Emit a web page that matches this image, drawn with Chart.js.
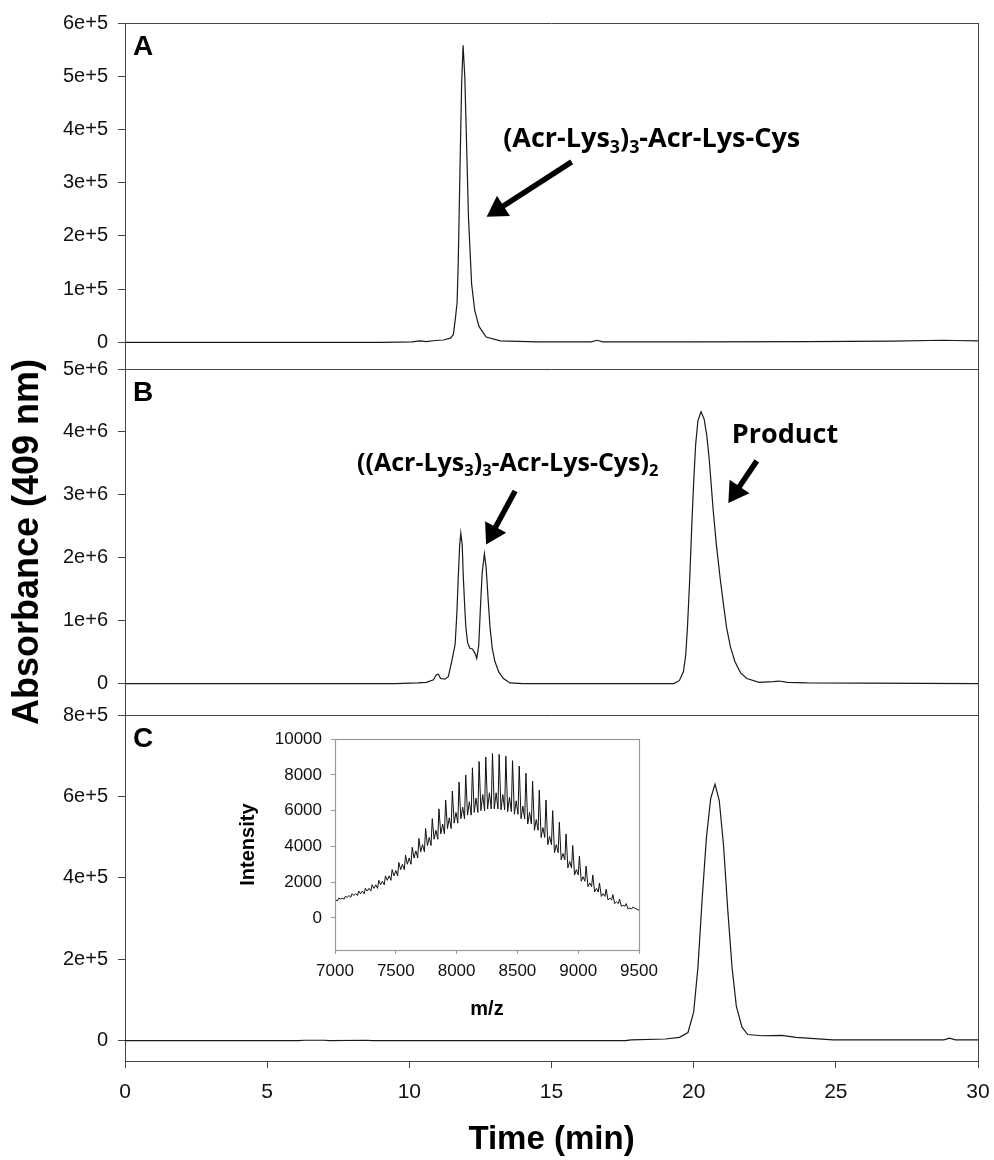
<!DOCTYPE html>
<html>
<head>
<meta charset="utf-8">
<script src="https://cdn.jsdelivr.net/npm/chart.js@4.4.1/dist/chart.umd.min.js"></script>
<style>
  html, body { margin: 0; padding: 0; background: #fff; }
  #wrap { position: relative; width: 994px; height: 1160px; }
  #main { position: absolute; left: 0; top: 0; }
  #inset { position: absolute; left: 225px; top: 720px; }
</style>
</head>
<body>
<div id="wrap">
  <canvas id="main" width="994" height="1160"></canvas>
  <canvas id="inset" width="440" height="305"></canvas>
</div>
<script>
// chromatograms, time in min / absorbance at 409 nm
var timeA = [0, 3, 6, 9, 10.1, 10.35, 10.45, 10.6, 10.9, 11.2, 11.45, 11.55, 11.62, 11.68, 11.72, 11.78, 11.84, 11.89, 11.95, 12.0, 12.08, 12.19, 12.3, 12.45, 12.7, 13.2, 14.5, 16.4, 16.6, 16.8, 20, 24, 27, 28.8, 29.2, 30];
var absA  = [0, 0, 0, 0, 1000, 3000, 2500, 1500, 3500, 4500, 8000, 15000, 45000, 75000, 150000, 320000, 487000, 558000, 500000, 400000, 235000, 110000, 60000, 30000, 10000, 3000, 1000, 1000, 4000, 1000, 1000, 1500, 2500, 4000, 3500, 3000];

var timeB = [0, 5, 9.5, 10.3, 10.6, 10.85, 10.95, 11.02, 11.1, 11.25, 11.37, 11.49, 11.61, 11.67, 11.72, 11.77, 11.81, 11.86, 11.9, 11.95, 11.99, 12.05, 12.13, 12.22, 12.31, 12.37, 12.44, 12.5, 12.56, 12.64, 12.7, 12.77, 12.84, 12.92, 13.01, 13.15, 13.31, 13.54, 14, 19.3, 19.5, 19.64, 19.72, 19.78, 19.86, 19.93, 20.0, 20.07, 20.15, 20.26, 20.37, 20.46, 20.55, 20.69, 20.8, 20.93, 21.05, 21.16, 21.3, 21.45, 21.65, 21.87, 22.3, 22.8, 23.0, 23.3, 24, 30];
var absB  = [0, 0, 0, 10000, 20000, 60000, 140000, 150000, 80000, 70000, 110000, 350000, 620000, 1100000, 1680000, 2200000, 2390000, 2200000, 1680000, 1200000, 880000, 650000, 560000, 550000, 480000, 400000, 600000, 1200000, 1750000, 2060000, 1850000, 1350000, 880000, 550000, 350000, 180000, 80000, 10000, 0, 0, 50000, 190000, 450000, 880000, 1650000, 2470000, 3200000, 3800000, 4180000, 4320000, 4200000, 3950000, 3550000, 2740000, 2200000, 1680000, 1250000, 880000, 570000, 350000, 170000, 80000, 20000, 30000, 40000, 20000, 10000, 0];

var timeC = [0, 6.1, 6.3, 7.0, 7.2, 8.5, 8.7, 12, 17.6, 17.8, 19.0, 19.5, 19.8, 20.0, 20.15, 20.3, 20.45, 20.6, 20.75, 20.9, 21.05, 21.2, 21.35, 21.5, 21.7, 21.9, 22.4, 23.1, 23.6, 24.9, 28.8, 29.0, 29.2, 30];
var absC  = [0, 0, 1000, 1000, 0, 1000, 0, 0, 0, 2000, 4000, 8000, 20000, 70000, 180000, 350000, 500000, 595000, 630000, 590000, 480000, 320000, 180000, 85000, 33000, 15000, 12000, 13000, 8000, 2000, 2000, 6000, 2000, 2000];

var timeTicks = [0, 5, 10, 15, 20, 25, 30];
var ticksA = [0, 100000, 200000, 300000, 400000, 500000, 600000];
var ticksB = [0, 1000000, 2000000, 3000000, 4000000, 5000000];
var ticksC = [0, 200000, 400000, 600000, 800000];

// inset mass spectrum: comb peaks on a broad envelope
var specStart = [7000, 900];
var specEnd = [9500, 420];
var spikeMz  = [7030, 7085, 7140, 7195, 7250, 7305, 7360, 7415, 7470, 7525, 7580, 7635, 7690, 7745, 7800, 7855, 7910, 7965, 8020, 8075, 8130, 8185, 8240, 8295, 8350, 8405, 8460, 8515, 8570, 8625, 8680, 8735, 8790, 8845, 8900, 8955, 9010, 9065, 9120, 9175, 9230, 9285, 9340, 9395, 9450];
var spikeTop = [1100, 1200, 1350, 1500, 1650, 1850, 2100, 2350, 2700, 3100, 3500, 3950, 4450, 5000, 5550, 6100, 6600, 7100, 7600, 8000, 8400, 8750, 9000, 9200, 9150, 9050, 8800, 8500, 8100, 7650, 7150, 6600, 6000, 5350, 4700, 4050, 3450, 2900, 2400, 1950, 1600, 1300, 1050, 800, 600];
var bandLow  = [950, 1050, 1150, 1250, 1350, 1500, 1650, 1850, 2100, 2350, 2700, 3000, 3350, 3700, 4050, 4400, 4700, 5000, 5300, 5550, 5750, 5900, 6000, 6100, 6100, 6050, 5950, 5800, 5550, 5250, 4900, 4500, 4100, 3650, 3250, 2800, 2400, 2050, 1750, 1450, 1200, 1000, 800, 650, 500];
var bandHigh = [1000, 1100, 1250, 1350, 1500, 1650, 1850, 2050, 2350, 2650, 3000, 3350, 3750, 4100, 4500, 4900, 5250, 5600, 5900, 6200, 6500, 6700, 6900, 7000, 7000, 6900, 6750, 6550, 6250, 5900, 5500, 5050, 4550, 4100, 3600, 3150, 2700, 2300, 1950, 1650, 1350, 1100, 900, 700, 550];
var mzTicks = [7000, 7500, 8000, 8500, 9000, 9500];
var intTicks = [0, 2000, 4000, 6000, 8000, 10000];

var FONT = "'Liberation Sans', Arial, sans-serif";
var AXIS = '#444';

function pts(xs, ys) {
  return xs.map(function (x, i) { return { x: x, y: ys[i] }; });
}

function fixTicks(list) {
  return function (scale) {
    scale.ticks = list.map(function (v) { return { value: v }; });
  };
}

function expLabel(v) {
  if (v === 0) return '0';
  return v.toExponential(0);
}

function yScale(min, max, list, weight) {
  return {
    type: 'linear',
    position: 'left',
    stack: 'abs',
    stackWeight: weight,
    min: min,
    max: max,
    afterBuildTicks: fixTicks(list),
    afterFit: function (s) { s.width = 125; },
    grid: { drawOnChartArea: false, tickLength: 7, color: AXIS },
    border: { color: AXIS, width: 1 },
    ticks: {
      callback: expLabel,
      font: { family: FONT, size: 20 },
      color: '#111',
      padding: 10,
      autoSkip: false
    }
  };
}

// labels drawn as text runs with subscripts
var labels = [
  { axis: 'yA', t: 0.28, v: 539000, size: 28, runs: [['A', 0]], family: FONT },
  { axis: 'yB', t: 0.28, v: 4490000, size: 28, runs: [['B', 0]], family: FONT },
  { axis: 'yC', t: 0.28, v: 722000, size: 28, runs: [['C', 0]], family: FONT },
  { axis: 'yA', t: 13.3, v: 367000, size: 27, runs: [['(Acr-Lys', 0], ['3', 1], [')', 0], ['3', 1], ['-Acr-Lys-Cys', 0]] },
  { axis: 'yB', t: 8.16, v: 3380000, size: 25, runs: [['((Acr-Lys', 0], ['3', 1], [')', 0], ['3', 1], ['-Acr-Lys-Cys)', 0], ['2', 1]] },
  { axis: 'yB', t: 21.34, v: 3830000, size: 27, runs: [['Product', 0]] }
];
var arrows = [
  { axis: 'yA', from: [15.71, 339000], to: [12.72, 236000] },
  { axis: 'yB', from: [13.72, 3060000], to: [12.70, 2210000] },
  { axis: 'yB', from: [22.22, 3540000], to: [21.22, 2870000] }
];

function drawRuns(ctx, lab, x, y) {
  var fam = lab.family || "'Open Sans', 'Liberation Sans', sans-serif";
  lab.runs.forEach(function (r) {
    var sz = r[1] ? lab.size * 0.66 : lab.size;
    ctx.font = 'bold ' + sz + 'px ' + fam;
    ctx.fillText(r[0], x, r[1] ? y + lab.size * 0.22 : y);
    x += ctx.measureText(r[0]).width;
  });
}

function drawArrow(ctx, x0, y0, x1, y1) {
  var ang = Math.atan2(y1 - y0, x1 - x0);
  var head = 20, half = 12;
  var bx = x1 - head * Math.cos(ang), by = y1 - head * Math.sin(ang);
  ctx.lineWidth = 5.5;
  ctx.lineCap = 'butt';
  ctx.beginPath();
  ctx.moveTo(x0, y0);
  ctx.lineTo(bx + 2 * Math.cos(ang), by + 2 * Math.sin(ang));
  ctx.stroke();
  ctx.beginPath();
  ctx.moveTo(x1, y1);
  ctx.lineTo(bx + half * Math.sin(ang), by - half * Math.cos(ang));
  ctx.lineTo(bx - half * Math.sin(ang), by + half * Math.cos(ang));
  ctx.closePath();
  ctx.fill();
}

var panelDecor = {
  id: 'panelDecor',
  afterDatasetsDraw: function (chart) {
    var ctx = chart.ctx, a = chart.chartArea, sc = chart.scales;
    ctx.save();
    ctx.strokeStyle = AXIS;
    ctx.lineWidth = 1;
    ['yA', 'yB', 'yC'].forEach(function (id) {
      var top = Math.round(sc[id].top) + 0.5;
      ctx.beginPath();
      ctx.moveTo(a.left, top);
      ctx.lineTo(a.right, top);
      ctx.stroke();
    });
    ctx.beginPath();
    ctx.moveTo(Math.round(a.right) + 0.5, a.top);
    ctx.lineTo(Math.round(a.right) + 0.5, a.bottom);
    ctx.stroke();

    ctx.fillStyle = '#000';
    ctx.strokeStyle = '#000';
    ctx.textBaseline = 'alphabetic';
    ctx.textAlign = 'left';
    labels.forEach(function (lab) {
      drawRuns(ctx, lab, sc.x.getPixelForValue(lab.t), sc[lab.axis].getPixelForValue(lab.v));
    });
    arrows.forEach(function (ar) {
      var y = sc[ar.axis];
      drawArrow(ctx, sc.x.getPixelForValue(ar.from[0]), y.getPixelForValue(ar.from[1]),
        sc.x.getPixelForValue(ar.to[0]), y.getPixelForValue(ar.to[1]));
    });
    ctx.restore();
  }
};

function trace(data, axis) {
  return {
    data: data,
    yAxisID: axis,
    borderColor: '#1a1a1a',
    borderWidth: 1.2,
    pointRadius: 0,
    tension: 0,
    fill: false
  };
}

var yTitleScale = yScale(-500000, 5000000, ticksB, 1);
yTitleScale.title = {
  display: true,
  text: 'Absorbance (409 nm)',
  font: { family: FONT, size: 36, weight: 'bold' },
  color: '#000',
  padding: { top: 6, bottom: 0 }
};

new Chart(document.getElementById('main'), {
  type: 'line',
  data: {
    datasets: [
      trace(pts(timeC, absC), 'yC'),
      trace(pts(timeB, absB), 'yB'),
      trace(pts(timeA, absA), 'yA')
    ]
  },
  options: {
    responsive: false,
    animation: false,
    layout: { padding: { left: 0, right: 16, top: 23, bottom: 0 } },
    plugins: { legend: { display: false }, tooltip: { enabled: false } },
    scales: {
      x: {
        type: 'linear',
        position: 'bottom',
        min: 0,
        max: 30,
        afterBuildTicks: fixTicks(timeTicks),
        afterFit: function (s) { s.height = 99; s.paddingLeft = 0; s.paddingRight = 0; },
        grid: { drawOnChartArea: false, tickLength: 7, color: AXIS },
        border: { color: AXIS, width: 1 },
        ticks: { font: { family: FONT, size: 21 }, color: '#111', padding: 12, maxRotation: 0 },
        title: {
          display: true,
          text: 'Time (min)',
          font: { family: FONT, size: 33, weight: 'bold' },
          color: '#000',
          padding: { top: 0, bottom: 0 }
        }
      },
      yC: yScale(-50000, 800000, ticksC, 1),
      yB: yTitleScale,
      yA: yScale(-50000, 600000, ticksA, 1)
    }
  },
  plugins: [panelDecor]
});

// inset spectrum
var spec = [{ x: specStart[0], y: specStart[1] }];
spikeMz.forEach(function (mz, i) {
  spec.push({ x: mz - 40, y: bandLow[i] });
  spec.push({ x: mz - 25, y: bandHigh[i] });
  spec.push({ x: mz - 10, y: bandLow[i] });
  spec.push({ x: mz, y: spikeTop[i] });
});
spec.push({ x: specEnd[0], y: specEnd[1] });

var insetFrame = {
  id: 'insetFrame',
  afterDraw: function (chart) {
    var a = chart.chartArea, ctx = chart.ctx;
    ctx.save();
    ctx.strokeStyle = '#9a9a9a';
    ctx.lineWidth = 1.2;
    ctx.strokeRect(Math.round(a.left) + 0.5, Math.round(a.top) + 0.5, Math.round(a.right - a.left), Math.round(a.bottom - a.top));
    ctx.restore();
  }
};

new Chart(document.getElementById('inset'), {
  type: 'line',
  data: { datasets: [{ data: spec, borderColor: '#111', borderWidth: 1, pointRadius: 0, tension: 0 }] },
  options: {
    responsive: false,
    animation: false,
    layout: { padding: { left: 0, right: 26, top: 15, bottom: 0 } },
    plugins: { legend: { display: false }, tooltip: { enabled: false } },
    scales: {
      x: {
        type: 'linear',
        min: 7000,
        max: 9500,
        afterBuildTicks: fixTicks(mzTicks),
        afterFit: function (s) { s.height = 75; },
        grid: { drawOnChartArea: false, tickLength: 4, color: '#9a9a9a' },
        border: { color: '#9a9a9a' },
        ticks: { font: { family: FONT, size: 17 }, color: '#111', padding: 7, maxRotation: 0, callback: function (v) { return String(v); } },
        title: { display: true, text: 'm/z', font: { family: FONT, size: 20, weight: 'bold' }, color: '#000', padding: { top: 0, bottom: 4 } }
      },
      y: {
        type: 'linear',
        min: -1800,
        max: 10000,
        afterBuildTicks: fixTicks(intTicks),
        afterFit: function (s) { s.width = 110; },
        grid: { drawOnChartArea: false, tickLength: 4, color: '#9a9a9a' },
        border: { color: '#9a9a9a' },
        ticks: { font: { family: FONT, size: 17 }, color: '#111', padding: 9, callback: function (v) { return String(v); } },
        title: { display: true, text: 'Intensity', font: { family: FONT, size: 20, weight: 'bold' }, color: '#000', padding: { top: 11, bottom: 0 } }
      }
    }
  },
  plugins: [insetFrame]
});
</script>
</body>
</html>
